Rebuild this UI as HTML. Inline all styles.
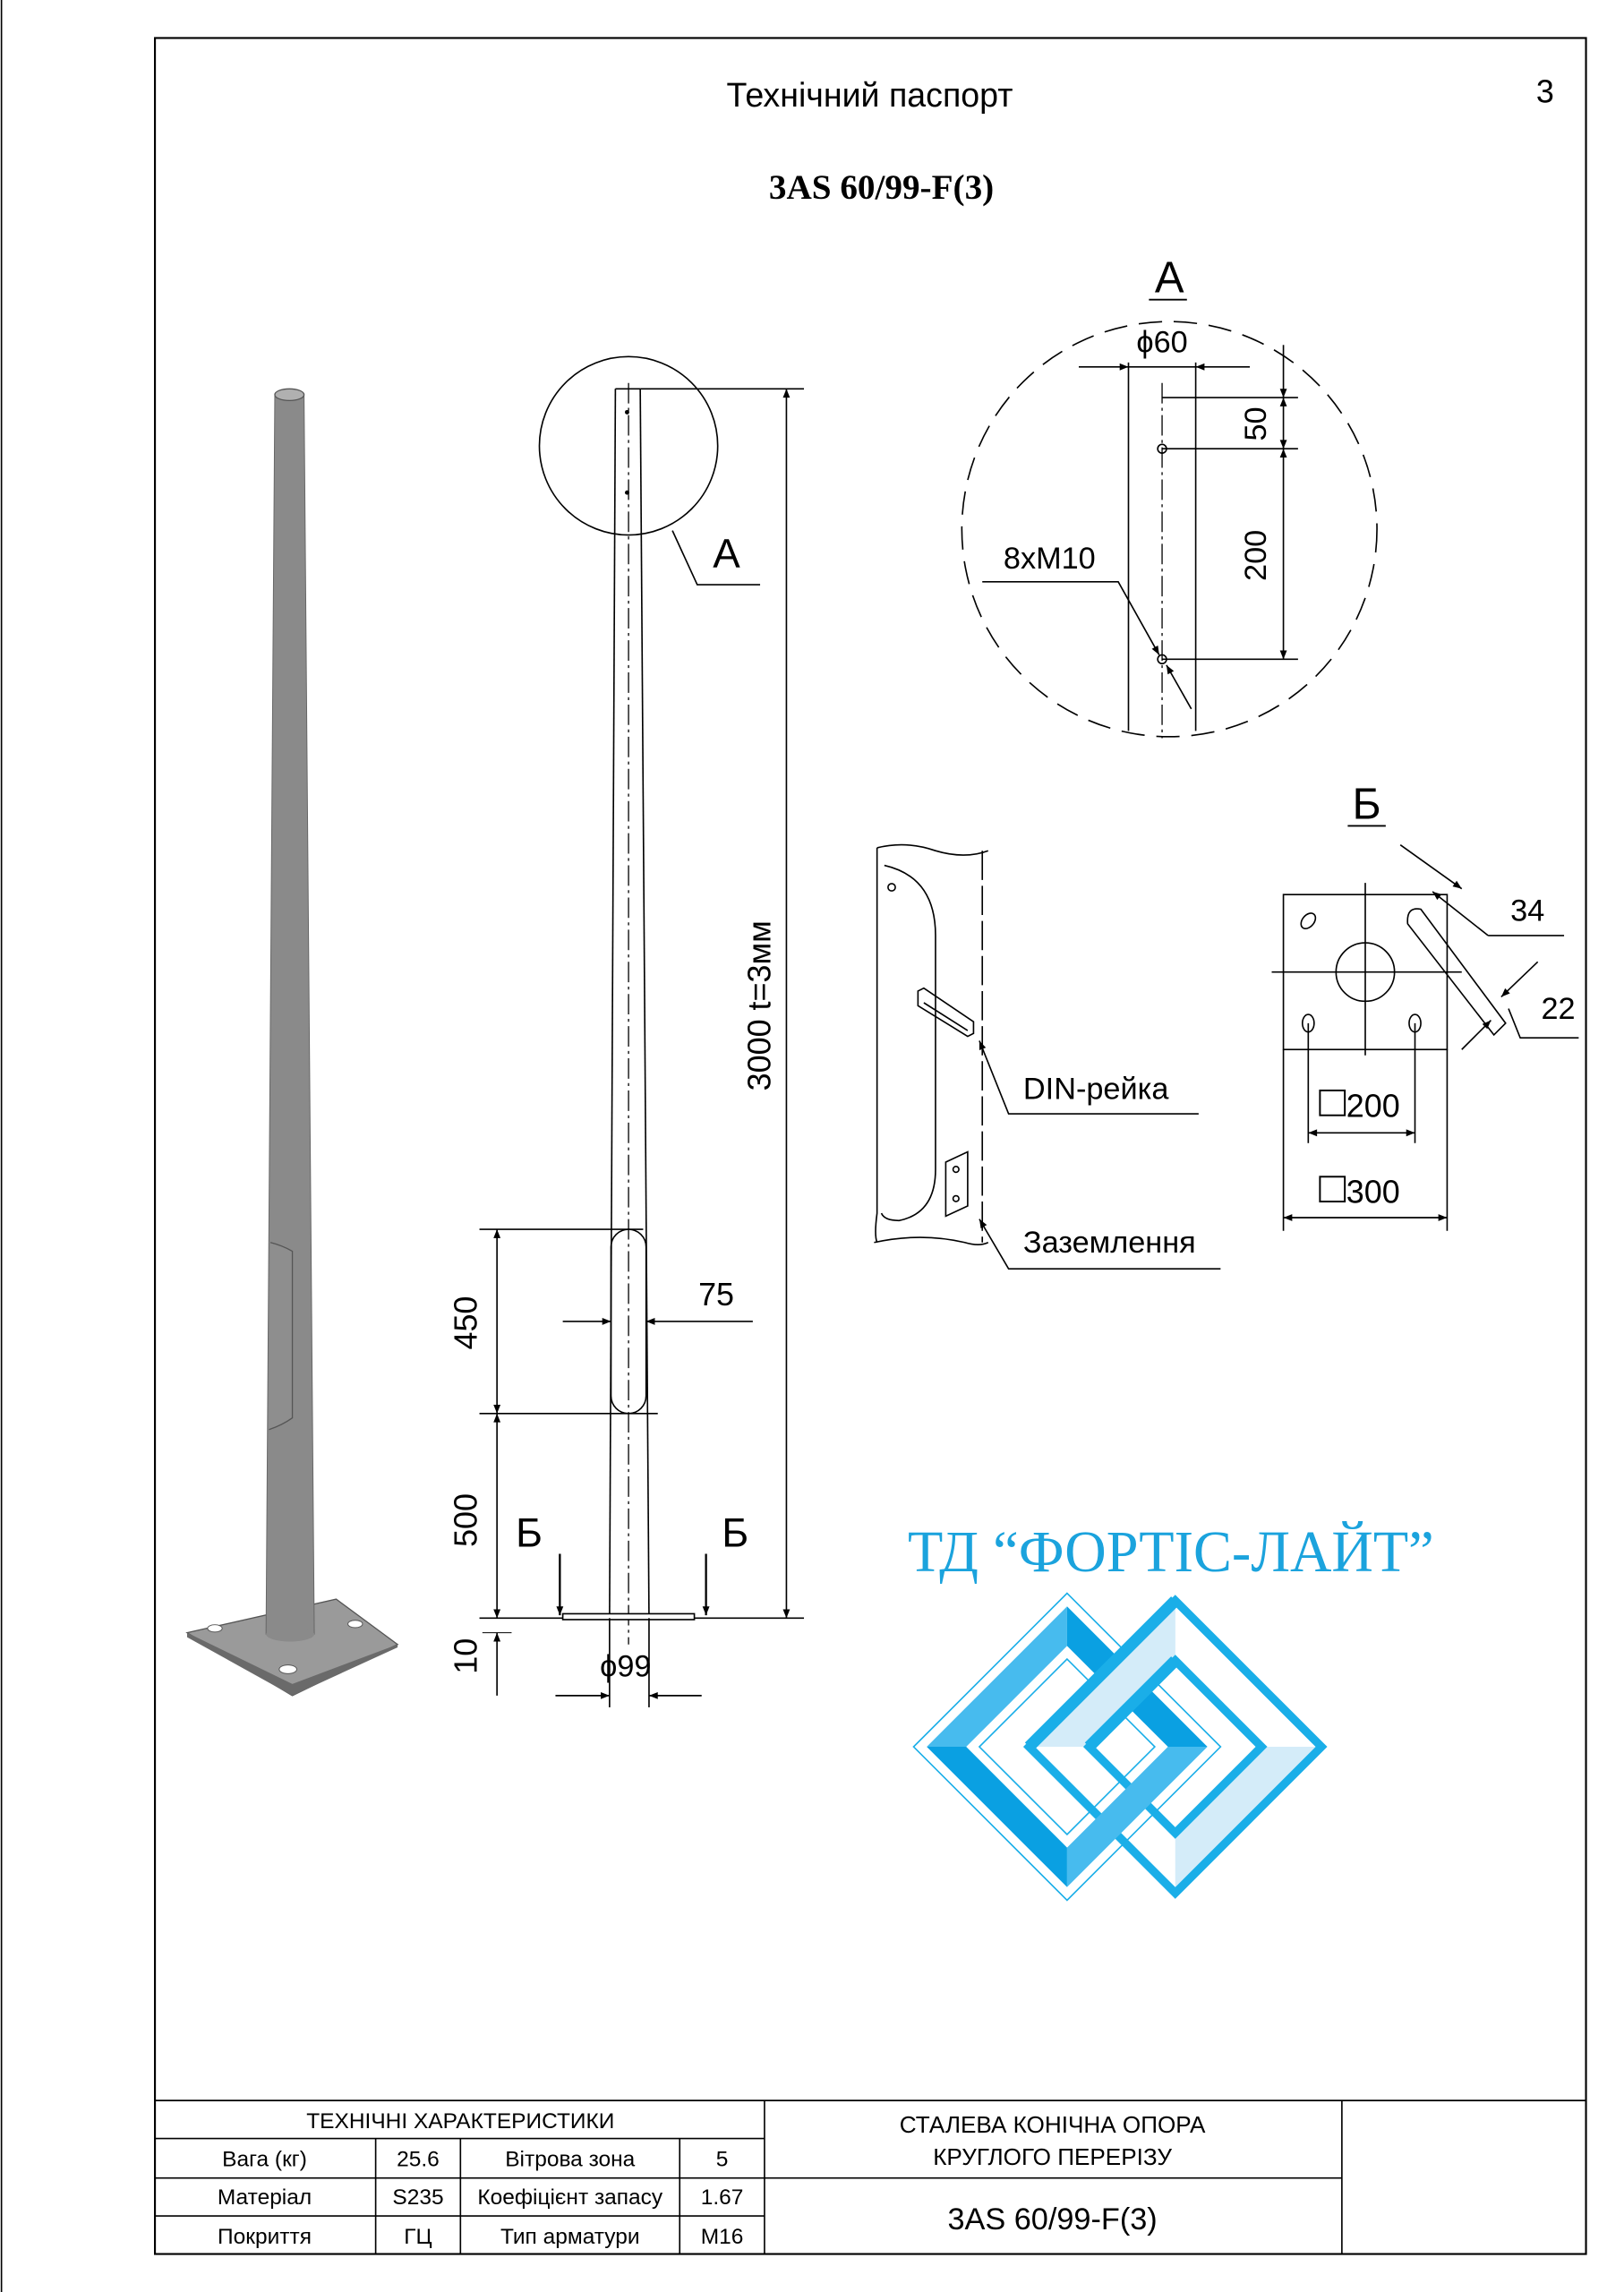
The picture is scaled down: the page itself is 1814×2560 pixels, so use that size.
<!DOCTYPE html>
<html><head><meta charset="utf-8"><style>
html,body{margin:0;padding:0;background:#fff}
svg{display:block}
text{font-family:"Liberation Sans",sans-serif;fill:#000}
</style></head><body>
<svg width="1814" height="2560" viewBox="0 0 1111 1568" preserveAspectRatio="none" xmlns="http://www.w3.org/2000/svg">
<defs>
<marker id="ar" viewBox="0 0 10 10" refX="10" refY="5" markerWidth="10" markerHeight="6" orient="auto-start-reverse" markerUnits="userSpaceOnUse"><path d="M0,1 L10,5 L0,9 z" fill="#000"/></marker>
</defs>
<rect width="1111" height="1568" fill="#fff"/>
<line x1="1" y1="0" x2="1" y2="1568" stroke="#000" stroke-width="1"/>
<rect x="106" y="26" width="979" height="1516" fill="none" stroke="#000" stroke-width="1.3"/>

<text x="595" y="73" font-size="23" text-anchor="middle">Технічний паспорт</text>
<text x="1057" y="70" font-size="22" text-anchor="middle">3</text>
<text x="603" y="136" font-size="24" font-weight="bold" text-anchor="middle" style="font-family:'Liberation Serif',serif">3AS 60/99-F(3)</text>

<!-- 3D pole -->
<polygon points="128,1117 230,1094 272,1125 200,1160" fill="#9a9a9a" stroke="#555" stroke-width="0.8"/>
<polygon points="128,1117 200,1152 272,1125 272,1127 200,1160 128,1120" fill="#6a6a6a"/>
<ellipse cx="147" cy="1114" rx="5" ry="2.5" fill="#fff" stroke="#555" stroke-width="0.6"/>
<ellipse cx="243" cy="1111" rx="5" ry="2.5" fill="#fff" stroke="#555" stroke-width="0.6"/>
<ellipse cx="197" cy="1142" rx="6" ry="3" fill="#fff" stroke="#555" stroke-width="0.6"/>
<polygon points="188,270 208,270 215,1118 182,1118" fill="#8a8a8a" stroke="#666" stroke-width="0.6"/>
<ellipse cx="198.5" cy="1118" rx="16.5" ry="5" fill="#8a8a8a"/>
<ellipse cx="198" cy="270" rx="10" ry="4" fill="#b0b0b0" stroke="#555" stroke-width="0.8"/>
<path d="M185,850 Q193,852 200,856 L200,970 Q193,975 184,978" fill="#8e8e8e" stroke="#555" stroke-width="0.8"/>

<!-- main pole drawing -->
<g stroke="#000" stroke-width="1" fill="none">
<line x1="421" y1="266" x2="417" y2="1107"/>
<line x1="438" y1="266" x2="444" y2="1107"/>
<line x1="421" y1="266" x2="438" y2="266"/>
<line x1="430" y1="262" x2="430" y2="1125" stroke-dasharray="14,3,2,3" stroke-width="0.8"/>
<circle cx="430" cy="305" r="61"/>
<polyline points="460,363 477,400 520,400"/>
<line x1="438" y1="266" x2="550" y2="266"/>
<line x1="444" y1="1107" x2="550" y2="1107"/>
<line x1="538" y1="266" x2="538" y2="1107" marker-start="url(#ar)" marker-end="url(#ar)"/>
<rect x="418" y="841" width="24" height="126" rx="12"/>
<line x1="328" y1="841" x2="440" y2="841"/>
<line x1="328" y1="967" x2="450" y2="967"/>
<line x1="328" y1="1107" x2="420" y2="1107"/>
<line x1="340" y1="841" x2="340" y2="967" marker-start="url(#ar)" marker-end="url(#ar)"/>
<line x1="340" y1="967" x2="340" y2="1107" marker-start="url(#ar)" marker-end="url(#ar)"/>
<line x1="340" y1="1160" x2="340" y2="1117" marker-end="url(#ar)"/>
<line x1="330" y1="1117" x2="350" y2="1117" stroke-width="0.6"/>
<line x1="385" y1="904" x2="418" y2="904" marker-end="url(#ar)"/>
<line x1="515" y1="904" x2="442" y2="904" marker-end="url(#ar)"/>
<rect x="385" y="1104" width="90" height="4" fill="#fff"/>
<line x1="383" y1="1063" x2="383" y2="1105" marker-end="url(#ar)" stroke-width="1.4"/>
<line x1="483" y1="1063" x2="483" y2="1105" marker-end="url(#ar)" stroke-width="1.4"/>
<line x1="417" y1="1107" x2="417" y2="1168"/>
<line x1="444" y1="1107" x2="444" y2="1168"/>
<line x1="380" y1="1160" x2="417" y2="1160" marker-end="url(#ar)"/>
<line x1="480" y1="1160" x2="444" y2="1160" marker-end="url(#ar)"/>
</g>
<circle cx="429" cy="282" r="1.5"/><circle cx="429" cy="337" r="1.5"/>
<text x="497" y="388" font-size="28" text-anchor="middle">А</text>
<text transform="translate(527,688) rotate(-90)" font-size="22" text-anchor="middle">3000 t=3мм</text>
<text transform="translate(326,905) rotate(-90)" font-size="22" text-anchor="middle">450</text>
<text transform="translate(326,1040) rotate(-90)" font-size="22" text-anchor="middle">500</text>
<text transform="translate(326,1133) rotate(-90)" font-size="22" text-anchor="middle">10</text>
<text x="490" y="893" font-size="22" text-anchor="middle">75</text>
<text x="362" y="1058" font-size="28" text-anchor="middle">Б</text>
<text x="503" y="1058" font-size="28" text-anchor="middle">Б</text>
<text x="428" y="1147" font-size="21" text-anchor="middle">ϕ99</text>

<!-- detail A -->
<g stroke="#000" stroke-width="1" fill="none">
<circle cx="800" cy="362" r="142" stroke-dasharray="16,8"/>
<line x1="772" y1="248" x2="772" y2="500"/>
<line x1="818" y1="248" x2="818" y2="500"/>
<line x1="795" y1="262" x2="795" y2="505" stroke-dasharray="14,3,2,3" stroke-width="0.8"/>
<line x1="738" y1="251" x2="772" y2="251" marker-end="url(#ar)"/>
<line x1="855" y1="251" x2="818" y2="251" marker-end="url(#ar)"/>
<line x1="772" y1="251" x2="818" y2="251"/>
<line x1="795" y1="272" x2="888" y2="272"/>
<line x1="795" y1="307" x2="888" y2="307"/>
<line x1="795" y1="451" x2="888" y2="451"/>
<line x1="878" y1="236" x2="878" y2="272" marker-end="url(#ar)"/>
<line x1="878" y1="272" x2="878" y2="307" marker-start="url(#ar)" marker-end="url(#ar)"/>
<line x1="878" y1="307" x2="878" y2="451" marker-start="url(#ar)" marker-end="url(#ar)"/>
<circle cx="795" cy="307" r="3"/><circle cx="795" cy="451" r="3"/>
<polyline points="672,398 765,398 793,448" marker-end="url(#ar)"/>
<line x1="815" y1="485" x2="798" y2="455" marker-end="url(#ar)"/>
</g>
<text x="800" y="200" font-size="30" text-anchor="middle">А</text>
<line x1="786" y1="205" x2="812" y2="205" stroke="#000" stroke-width="1.2"/>
<text x="795" y="241" font-size="21" text-anchor="middle">ϕ60</text>
<text transform="translate(866,290) rotate(-90)" font-size="21" text-anchor="middle">50</text>
<text transform="translate(866,380) rotate(-90)" font-size="21" text-anchor="middle">200</text>
<text x="718" y="389" font-size="21" text-anchor="middle">8xM10</text>

<!-- DIN detail -->
<g stroke="#000" stroke-width="1" fill="none">
<path d="M600,580 Q620,575 640,582 Q660,588 676,582"/>
<path d="M600,580 L600,830 Q598,845 600,850"/>
<path d="M598,850 Q630,843 660,850 Q670,853 676,850"/>
<path d="M672,582 L672,850" stroke-dasharray="20,4"/>
<path d="M605,592 Q640,600 640,640 L640,800 Q640,830 615,835 Q605,835 603,830"/>
<circle cx="610" cy="607" r="2.5"/>
<polygon points="628,678 632,676 666,699 666,707 662,709 628,688"/>
<line x1="632" y1="686" x2="662" y2="705"/>
<polygon points="647,795 662,788 662,825 647,832"/>
<circle cx="654" cy="800" r="2"/><circle cx="654" cy="820" r="2"/>
<polyline points="820,762 690,762 670,712" marker-end="url(#ar)"/>
<polyline points="835,868 690,868 670,834" marker-end="url(#ar)"/>
</g>
<text x="700" y="752" font-size="21">DIN-рейка</text>
<text x="700" y="857" font-size="21">Заземлення</text>

<!-- detail Б -->
<g stroke="#000" stroke-width="1" fill="none">
<rect x="878" y="612" width="112" height="106"/>
<line x1="870" y1="665" x2="1000" y2="665"/>
<line x1="934" y1="604" x2="934" y2="722"/>
<circle cx="934" cy="665" r="20"/>
<ellipse cx="895" cy="630" rx="4" ry="6" transform="rotate(40 895 630)"/>
<ellipse cx="895" cy="700" rx="4" ry="6"/>
<ellipse cx="968" cy="700" rx="4" ry="6"/>
<path d="M963,632 Q962,620 972,622 L1030,700 L1022,708 Z"/>
<line x1="958" y1="578" x2="1000" y2="608" marker-end="url(#ar)"/>
<line x1="1070" y1="640" x2="1018" y2="640"/>
<line x1="1018" y1="640" x2="980" y2="610" marker-end="url(#ar)"/>
<line x1="1052" y1="658" x2="1027" y2="682" marker-end="url(#ar)"/>
<line x1="1000" y1="718" x2="1020" y2="698" marker-end="url(#ar)"/>
<polyline points="1032,690 1040,710 1080,710"/>
<line x1="895" y1="700" x2="895" y2="782"/>
<line x1="968" y1="700" x2="968" y2="782"/>
<line x1="895" y1="775" x2="968" y2="775" marker-start="url(#ar)" marker-end="url(#ar)"/>
<line x1="878" y1="718" x2="878" y2="842"/>
<line x1="990" y1="718" x2="990" y2="842"/>
<line x1="878" y1="833" x2="990" y2="833" marker-start="url(#ar)" marker-end="url(#ar)"/>
</g>
<text x="935" y="560" font-size="30" text-anchor="middle">Б</text>
<line x1="922" y1="565" x2="948" y2="565" stroke="#000" stroke-width="1.2"/>
<text x="1045" y="630" font-size="21" text-anchor="middle">34</text>
<text x="1066" y="697" font-size="21" text-anchor="middle">22</text>
<rect x="903" y="746" width="17" height="17" fill="none" stroke="#000" stroke-width="1.2"/>
<text x="921" y="764" font-size="22">200</text>
<rect x="903" y="805" width="17" height="17" fill="none" stroke="#000" stroke-width="1.2"/>
<text x="921" y="823" font-size="22">300</text>

<!-- logo -->
<text x="801" y="1075" font-size="40" text-anchor="middle" textLength="360" lengthAdjust="spacingAndGlyphs" style="font-family:'Liberation Serif',serif;fill:#1ba3dd">ТД “ФОРТІС-ЛАЙТ”</text>
<!-- right diamond (c 804,1195) -->
<g>
<polygon points="804,1091 908,1195 804,1299 700,1195" fill="#1aaee8"/>
<polygon points="804,1099 900,1195 804,1291 708,1195" fill="#fff"/>
<polygon points="804,1099 804,1132 741,1195 708,1195" fill="#d4ecf9"/>
<polygon points="900,1195 867,1195 804,1258 804,1291" fill="#d4ecf9"/>
<polygon points="804,1132 867,1195 804,1258 741,1195" fill="#1aaee8"/>
<polygon points="804,1140 859,1195 804,1250 749,1195" fill="#fff"/>
</g>
<!-- left diamond (c 730,1195) -->
<g>
<polygon points="730,1090 835,1195 730,1300 625,1195" fill="none" stroke="#1aaee8" stroke-width="1"/>
<polygon points="730,1099 730,1126 661,1195 634,1195" fill="#47bbee"/>
<polygon points="730,1099 826,1195 799,1195 730,1126" fill="#0aa0e2"/>
<polygon points="826,1195 730,1291 730,1264 799,1195" fill="#47bbee"/>
<polygon points="730,1291 634,1195 661,1195 730,1264" fill="#0aa0e2"/>
<polygon points="730,1135 790,1195 730,1255 670,1195" fill="none" stroke="#1aaee8" stroke-width="1"/>
</g>
<!-- re-overlap: right diamond upper-left band over left -->
<polygon points="804,1099 804,1132 741,1195 708,1195" fill="#d4ecf9"/>
<line x1="704" y1="1195" x2="804" y2="1095" stroke="#1aaee8" stroke-width="8"/>
<line x1="745" y1="1195" x2="804" y2="1136" stroke="#1aaee8" stroke-width="8"/>

<!-- table -->
<g stroke="#000" stroke-width="1" fill="none">
<line x1="106" y1="1437" x2="1085" y2="1437"/>
<line x1="106" y1="1463" x2="523" y2="1463"/>
<line x1="106" y1="1490" x2="523" y2="1490"/>
<line x1="523" y1="1490" x2="918" y2="1490"/>
<line x1="106" y1="1516" x2="523" y2="1516"/>
<line x1="257" y1="1463" x2="257" y2="1542"/>
<line x1="315" y1="1463" x2="315" y2="1542"/>
<line x1="465" y1="1463" x2="465" y2="1542"/>
<line x1="523" y1="1437" x2="523" y2="1542"/>
<line x1="918" y1="1437" x2="918" y2="1542"/>
</g>
<g font-size="15" text-anchor="middle">
<text x="315" y="1456">ТЕХНІЧНІ ХАРАКТЕРИСТИКИ</text>
<text x="181" y="1482">Вага (кг)</text><text x="286" y="1482">25.6</text><text x="390" y="1482">Вітрова зона</text><text x="494" y="1482">5</text>
<text x="181" y="1508">Матеріал</text><text x="286" y="1508">S235</text><text x="390" y="1508">Коефіцієнт запасу</text><text x="494" y="1508">1.67</text>
<text x="181" y="1535">Покриття</text><text x="286" y="1535">ГЦ</text><text x="390" y="1535">Тип арматури</text><text x="494" y="1535">M16</text>
<text x="720" y="1459" font-size="16">СТАЛЕВА КОНІЧНА ОПОРА</text>
<text x="720" y="1481" font-size="16">КРУГЛОГО ПЕРЕРІЗУ</text>
<text x="720" y="1525" font-size="21">3AS 60/99-F(3)</text>
</g>
</svg>
</body></html>
